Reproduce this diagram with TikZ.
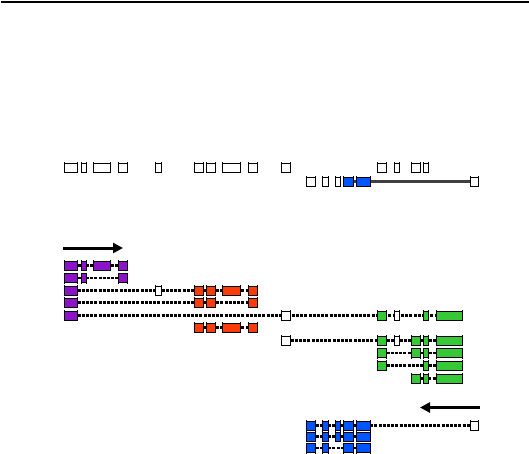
\documentclass[tikz,border=0pt]{standalone}
\usepackage{tikz}
\usepackage{xcolor}
\usetikzlibrary{arrows.meta}

\definecolor{exPurple}{RGB}{140,20,200}
\definecolor{exRed}{RGB}{250,60,10}
\definecolor{exGreen}{RGB}{55,200,55}
\definecolor{exBlue}{RGB}{0,85,255}

% one exon: left, right, row centre, fill
\newcommand{\exonbox}[4]{%
  \draw[exon, fill=#4] (#1,#3-4.5) rectangle (#2,#3+4.5);
  \draw[exon] (#1,#3-5.5) -- (#1,#3+5.5) (#2,#3-5.5) -- (#2,#3+5.5);
}

\begin{document}
\begin{tikzpicture}[
    x=1pt, y=-1pt,
    exon/.style={draw=black, line width=0.9pt},
    intron/.style={line width=2.8pt, dash pattern=on 3pt off 1.2pt},
    genome/.style={line width=2.4pt, black!75},
    dir/.style={line width=3pt, -{Triangle[length=10pt, width=10pt]}}
]
\useasboundingbox (0,0) rectangle (529,454);

\draw[line width=2pt] (1,2) -- (529,2);

% genome, upper track
\foreach \a/\b in {64.5/77.5, 81/86, 93.5/110.5, 118.5/127.5, 155.5/161,
    194/203.5, 206/215.5, 222.5/240.5, 248.5/257, 281.5/290.5,
    377.5/386.5, 394/399, 411/420, 423.5/428.5}
  \exonbox{\a}{\b}{168}{white};

% genome, lower track
\draw[genome] (353.5,181.5) -- (470,181.5);
\foreach \a/\b/\c in {306.5/315.5/white, 322.5/328/white, 335.5/340.5/white,
    343.5/353.5/exBlue, 356.5/370/exBlue, 470/478.5/white}
  \exonbox{\a}{\b}{181.5}{\c};

% forward strand
\draw[dir] (63,248) -- (123,248);

\draw[intron] (77.5,265.5) -- (118.5,265.5);
\foreach \a/\b in {64.5/77.5, 81/86, 93.5/110.5, 118.5/127.5}
  \exonbox{\a}{\b}{265.5}{exPurple};

\draw[intron] (77.5,278) -- (118.5,278);
\foreach \a/\b in {64.5/77.5, 81/86, 118.5/127.5}
  \exonbox{\a}{\b}{278}{exPurple};

\draw[intron] (77.5,290.5) -- (248.5,290.5);
\exonbox{64.5}{77.5}{290.5}{exPurple}
\exonbox{155.5}{161}{290.5}{white}
\foreach \a/\b in {194/203.5, 206/215.5, 222.5/240.5, 248.5/257}
  \exonbox{\a}{\b}{290.5}{exRed};

\draw[intron] (77.5,302.5) -- (248.5,302.5);
\exonbox{64.5}{77.5}{302.5}{exPurple}
\foreach \a/\b in {194/203.5, 206/215.5, 248.5/257}
  \exonbox{\a}{\b}{302.5}{exRed};

\draw[intron] (77.5,315.5) -- (436,315.5);
\exonbox{64.5}{77.5}{315.5}{exPurple}
\foreach \a/\b/\c in {281.5/290.5/white, 377.5/386.5/exGreen, 394/399/white,
    423.5/428.5/exGreen, 436/462.5/exGreen}
  \exonbox{\a}{\b}{315.5}{\c};

\draw[intron] (203.5,327.5) -- (248.5,327.5);
\foreach \a/\b in {194/203.5, 206/215.5, 222.5/240.5, 248.5/257}
  \exonbox{\a}{\b}{327.5}{exRed};

\draw[intron] (290.5,340.5) -- (436,340.5);
\foreach \a/\b/\c in {281.5/290.5/white, 377.5/386.5/exGreen, 394/399/white,
    411/420/exGreen, 423.5/428.5/exGreen, 436/462.5/exGreen}
  \exonbox{\a}{\b}{340.5}{\c};

\draw[intron] (386.5,353) -- (436,353);
\foreach \a/\b in {377.5/386.5, 411/420, 423.5/428.5, 436/462.5}
  \exonbox{\a}{\b}{353}{exGreen};

\draw[intron] (386.5,365.5) -- (436,365.5);
\foreach \a/\b in {377.5/386.5, 423.5/428.5, 436/462.5}
  \exonbox{\a}{\b}{365.5}{exGreen};

\draw[intron] (420,378.5) -- (436,378.5);
\foreach \a/\b in {411/420, 423.5/428.5, 436/462.5}
  \exonbox{\a}{\b}{378.5}{exGreen};

% reverse strand
\draw[dir] (480,407.5) -- (420,407.5);

\draw[intron] (315.5,425.5) -- (470,425.5);
\foreach \a/\b/\c in {306.5/315.5/exBlue, 322.5/328/exBlue, 335.5/340.5/exBlue,
    343.5/353.5/exBlue, 356.5/370/exBlue, 470/478.5/white}
  \exonbox{\a}{\b}{425.5}{\c};

\draw[intron] (315.5,436.5) -- (356.5,436.5);
\foreach \a/\b in {306.5/315.5, 322.5/328, 335.5/340.5, 343.5/353.5, 356.5/370}
  \exonbox{\a}{\b}{436.5}{exBlue};

\draw[intron] (315.5,448) -- (356.5,448);
\foreach \a/\b in {306.5/315.5, 322.5/328, 343.5/353.5, 356.5/370}
  \exonbox{\a}{\b}{448}{exBlue};

\end{tikzpicture}
\end{document}
